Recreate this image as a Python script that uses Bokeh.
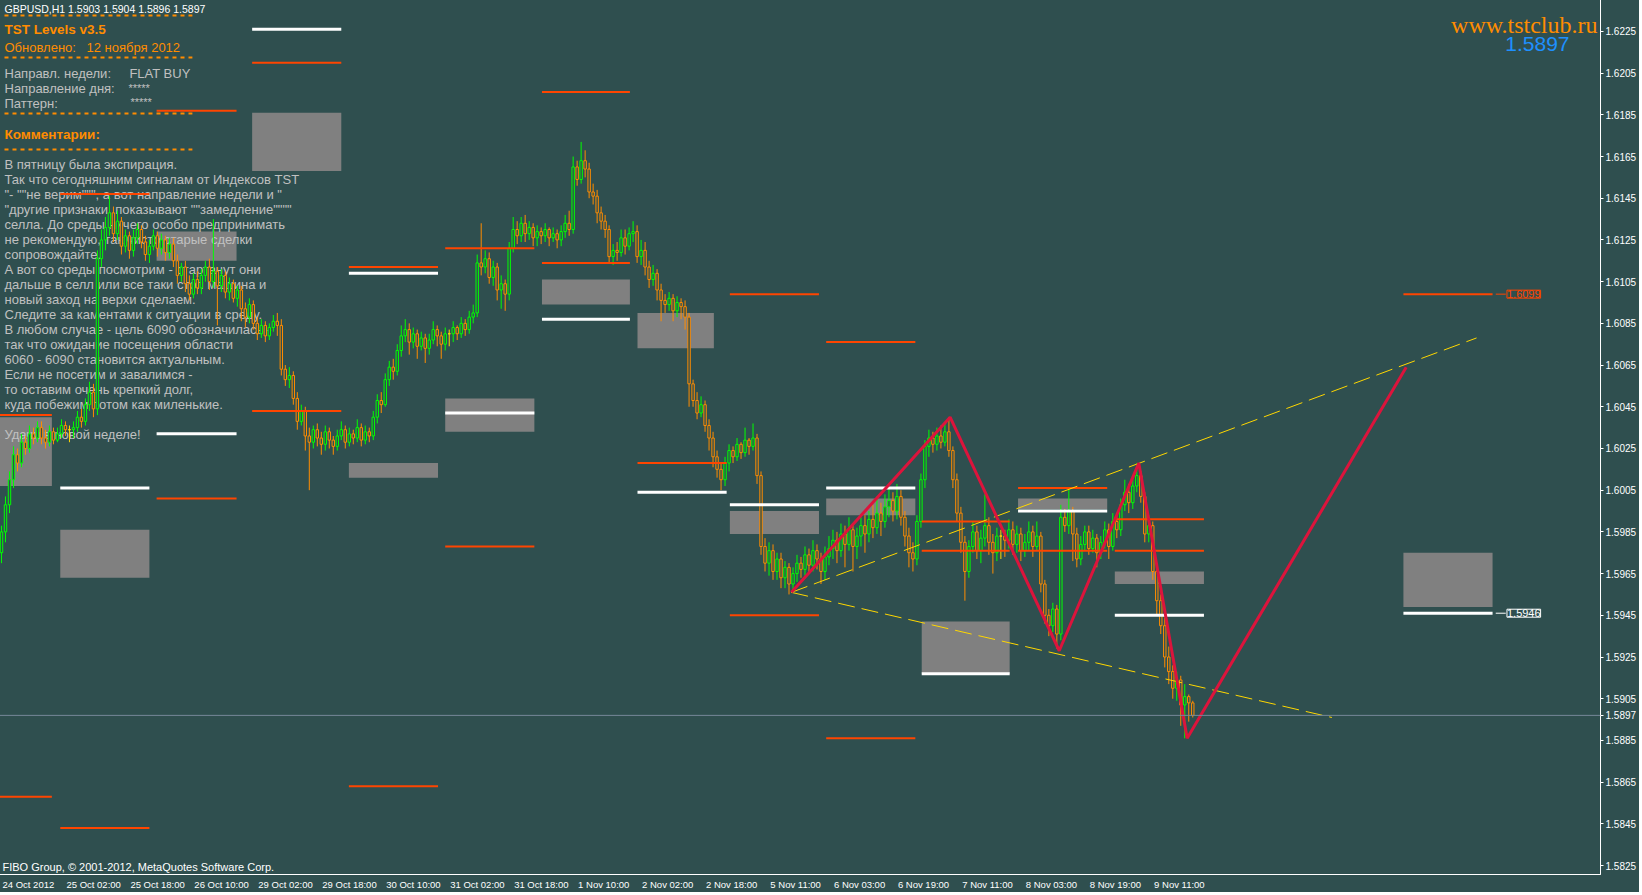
from bokeh.plotting import figure
from bokeh.models import Range1d, LinearAxis, FixedTicker, PrintfTickFormatter, Label, Span
from bokeh.core.properties import value
from bokeh.embed import file_html
from bokeh.resources import INLINE

BG = "#2F4F4F"
BULL = "#00FF00"
BEAR = "#FF8C00"
DOJI = "#FFD700"
ORANGE_RED = "#FF4500"
TXT_ORANGE = "#FF8C00"
SILVER = "#C0C0C0"

# ---------------- data: GBPUSD H1 candles (price = 1 + v/10000) ----------------
bar_open = [5975,5985,5998,6010,6022,6018,6028,6025,6032,6030,
 6035,6030,6028,6033,6029,6032,6036,6034,6034,6035,6040,6038,6046,
 6052,
 6044,
 6116,6125,6131,6138,6128,6134,6122,
 6127,6120,6126,6130,6124,6118,6122,6127,6121,6125,6119,
 6123,6115,6108,6112,6104,6099,6106,
 6102,6108,6112,6105,6110,6103,6108,
 6100,6104,6097,6101,6092,6088,
 6094,6085,6080,6084,6079,6083,6086,
 6084,
 6063,6058,6060,6049,6038,6043,6031,6028,
 6034,6030,6027,6033,6029,6026,6031,6034,6028,6032,6030,6035,6029,6033,
 6031,6040,6048,6046,6058,6064,6062,6072,
 6079,6082,6076,6080,6074,6078,6073,6077,6082,6079,6075,6080,6080,6083,6080,6085,6082,
 6088,6090,6114,
 6112,6116,6107,6112,6101,6104,
 6099,
 6121,6130,6127,6133,6128,6131,6126,6129,6127,6130,6126,6128,6125,6129,
 6133,6130,6160,6154,6163,
 6159,6148,6146,6138,6134,6130,
 6117,6120,6119,6126,6122,6128,
 6129,6117,6120,6112,6106,6109,6101,
 6096,6094,6097,6091,6095,
 6093,6088,
 6056,6048,6042,6046,6036,6030,6021,6015,
 6010,6018,6024,6021,6027,6023,6029,6026,
 6030,6012,
 5978,5970,5976,5966,5972,5963,5968,5960,
 5965,5970,5967,5974,5969,5976,5972,5966,5973,
 5977,5981,5976,5984,5979,5986,5978,
 5983,5988,5984,5991,5987,5994,5990,5997,6000,5995,
 6002,5992,5983,5975,
 5972,5990,6010,6026,6030,6027,
 6031,6028,6033,6024,6010,5994,5980,
 5966,5978,5985,5976,5982,5988,5980,5975,5983,5983,5981,5986,5979,5984,5976,5980,5985,5978,
 5983,5960,5945,5940,5948,
 5936,
 5992,5988,5995,5984,5972,5979,5985,5977,5982,5975,5980,5986,5978,
 5990,5986,5998,6004,5999,6007,6012,
 6002,5984,5988,5966,5952,5940,5925,
 5918,5910,5914,5902,5906,5903]

bar_close = [5985,5998,6010,6022,6018,6028,6025,6032,6030,6035,
 6030,6028,6033,6029,6032,6036,6034,6034,6035,6040,6038,6046,6052,
 6044,
 6116,
 6125,6131,6138,6128,6134,6122,6127,
 6120,6126,6130,6124,6118,6122,6127,6121,6125,6119,6123,
 6115,6108,6112,6104,6099,6106,6102,
 6108,6112,6105,6110,6103,6108,6100,
 6104,6097,6101,6092,6088,6094,
 6085,6080,6084,6079,6083,6086,6084,
 6063,
 6058,6060,6049,6038,6043,6031,6028,6034,
 6030,6027,6033,6029,6026,6031,6034,6028,6032,6030,6035,6029,6033,6031,
 6040,6048,6046,6058,6064,6062,6072,6079,
 6082,6076,6080,6074,6078,6073,6077,6082,6079,6075,6080,6080,6083,6080,6085,6082,6088,
 6090,6114,6112,
 6116,6107,6112,6101,6104,6099,
 6121,
 6130,6127,6133,6128,6131,6126,6129,6127,6130,6126,6128,6125,6129,6133,
 6130,6160,6154,6163,6159,
 6148,6146,6138,6134,6130,6117,
 6120,6119,6126,6122,6128,6129,
 6117,6120,6112,6106,6109,6101,6096,
 6094,6097,6091,6095,6093,
 6088,6056,
 6048,6042,6046,6036,6030,6021,6015,6010,
 6018,6024,6021,6027,6023,6029,6026,6030,
 6012,5978,
 5970,5976,5966,5972,5963,5968,5960,5965,
 5970,5967,5974,5969,5976,5972,5966,5973,5977,
 5981,5976,5984,5979,5986,5978,5983,
 5988,5984,5991,5987,5994,5990,5997,6000,5995,6002,
 5992,5983,5975,5972,
 5990,6010,6026,6030,6027,6031,
 6028,6033,6024,6010,5994,5980,5966,
 5978,5985,5976,5982,5988,5980,5975,5983,5983,5981,5986,5979,5984,5976,5980,5985,5978,5983,
 5960,5945,5940,5948,5936,
 5992,
 5988,5995,5984,5972,5979,5985,5977,5982,5975,5980,5986,5978,5990,
 5986,5998,6004,5999,6007,6012,6002,
 5984,5988,5966,5952,5940,5925,5918,
 5910,5914,5902,5906,5903,5897]

bar_high = [5988,6002,6014,6026,6025,6032,6031,6036,6035,6038,
 6038,6034,6036,6035,6035,6039,6038,6036,6038,6043,6044,6049,6057,
 6056,
 6120,
 6130,6136,6146,6141,6139,6136,6130,
 6129,6130,6133,6132,6127,6125,6130,6129,6128,6127,6126,
 6126,6118,6114,6115,6108,6109,6110,
 6111,6115,6116,6135,6112,6111,6110,
 6107,6106,6103,6103,6095,6097,
 6096,6088,6087,6086,6085,6089,6090,
 6087,
 6065,6064,6062,6052,6046,6045,6035,6036,
 6037,6033,6036,6035,6031,6034,6038,6036,6035,6034,6039,6037,6036,6035,
 6043,6051,6052,6061,6067,6068,6075,6084,
 6087,6085,6083,6082,6081,6080,6080,6086,6084,6081,6083,6082,6086,6084,6088,6087,6091,
 6094,6118,6133,
 6120,6119,6115,6114,6108,6106,
 6124,
 6136,6134,6136,6137,6134,6133,6132,6131,6133,6131,6131,6130,6132,6137,
 6139,6165,6163,6172,6168,
 6162,6152,6149,6141,6137,6132,
 6123,6124,6130,6130,6131,6134,
 6132,6125,6124,6115,6113,6111,6104,
 6099,6100,6099,6098,6097,
 6096,6090,
 6058,6052,6050,6048,6039,6033,6024,6018,
 6021,6027,6026,6030,6028,6035,6030,6037,
 6032,6014,
 5982,5980,5979,5975,5975,5971,5970,5968,
 5974,5973,5978,5977,5981,5979,5975,5978,5983,
 5986,5985,5989,5988,5992,5989,5987,
 5992,5993,5995,5998,6002,5999,6003,6006,6004,6008,
 6005,5995,5987,5980,
 5993,6013,6029,6034,6033,6035,
 6036,6037,6040,6026,6013,5997,5983,
 5981,5990,5988,5986,6003,5992,5984,5987,5986,5986,5991,5990,5988,5987,5984,5990,5988,5990,
 5985,5962,5948,5951,5950,
 5998,
 5996,6006,5997,5987,5983,5988,5988,5986,5984,5983,5990,5989,5994,
 5993,6001,6010,6008,6012,6018,6014,
 6004,5993,5990,5970,5955,5944,5930,
 5921,5918,5916,5912,5907,5904]

bar_low = [5970,5980,5994,6006,6014,6016,6022,6023,6027,6028,
 6027,6025,6026,6027,6028,6030,6031,6028,6030,6033,6035,6036,6043,
 6040,
 6041,
 6112,6120,6127,6124,6125,6118,6119,
 6116,6117,6123,6121,6115,6114,6120,6117,6118,6115,6116,
 6112,6104,6105,6100,6096,6097,6099,
 6099,6105,6101,6102,6084,6100,6097,
 6096,6095,6093,6086,6083,6085,
 6082,6077,6078,6076,6077,6081,6079,
 6060,
 6055,6054,6046,6034,6036,6024,6005,6025,
 6026,6022,6024,6025,6022,6024,6029,6025,6026,6027,6028,6026,6027,6028,
 6029,6037,6042,6045,6055,6058,6060,6069,
 6076,6070,6073,6068,6072,6066,6070,6075,6074,6068,6072,6074,6076,6077,6078,6079,6080,
 6085,6088,6108,
 6109,6104,6103,6096,6092,6091,
 6096,
 6119,6123,6124,6124,6125,6122,6122,6123,6124,6122,6124,6121,6122,6126,
 6127,6128,6151,6152,6155,
 6145,6142,6133,6130,6126,6114,
 6113,6115,6117,6118,6120,6124,
 6114,6113,6108,6102,6103,6096,6086,
 6090,6091,6086,6088,6087,
 6082,6045,
 6045,6039,6040,6033,6024,6016,6011,6005,
 6007,6014,6018,6019,6020,6021,6022,6024,
 6008,5974,
 5966,5964,5962,5962,5958,5958,5955,5957,
 5961,5963,5964,5965,5966,5967,5960,5962,5969,
 5972,5970,5973,5968,5976,5966,5972,
 5978,5975,5980,5982,5984,5983,5987,5992,5990,5991,
 5988,5978,5968,5966,
 5969,5987,6006,6021,6023,6024,
 6025,6026,6021,6006,5990,5975,5952,
 5963,5975,5972,5970,5978,5974,5965,5971,5972,5973,5977,5974,5975,5971,5973,5976,5973,5976,
 5956,5941,5935,5937,5929,
 5933,
 5985,5984,5971,5968,5969,5976,5974,5975,5968,5972,5977,5972,5976,
 5982,5983,5995,5994,5996,6004,5999,
 5980,5980,5962,5945,5936,5920,5912,
 5905,5904,5892,5886,5894,5896]

# time axis (bar index -> label), 16 bars apart
date_tick_bars = [0, 16, 32, 48, 64, 80, 96, 112, 128, 144, 160, 176, 192, 208, 224, 240, 256, 272, 288]
date_tick_labels = ["24 Oct 2012", "25 Oct 02:00", "25 Oct 18:00", "26 Oct 10:00", "29 Oct 02:00",
                    "29 Oct 18:00", "30 Oct 10:00", "31 Oct 02:00", "31 Oct 18:00", "1 Nov 10:00",
                    "2 Nov 02:00", "2 Nov 18:00", "5 Nov 11:00", "6 Nov 03:00", "6 Nov 19:00",
                    "7 Nov 11:00", "8 Nov 03:00", "8 Nov 19:00", "9 Nov 11:00"]
price_ticks = [1.5825, 1.5845, 1.5865, 1.5885, 1.5905, 1.5925, 1.5945, 1.5965, 1.5985, 1.6005,
               1.6025, 1.6045, 1.6065, 1.6085, 1.6105, 1.6125, 1.6145, 1.6165, 1.6185, 1.6205, 1.6225]
last_price = 1.5897

# TST levels (per-day segments)
orange_x0 = [-0.5, -0.5, 14.7, 14.7, 38.8, 38.8, 62.7, 62.7, 86.9, 86.9, 111.0, 111.0, 135.2, 135.2,
             159.1, 182.2, 182.2, 206.3, 206.3, 230.2, 230.2, 254.3, 254.3, 278.5, 278.5, 350.7]
orange_x1 = [12.6, 12.6, 37.0, 37.0, 58.8, 58.8, 85.0, 85.0, 109.2, 109.2, 133.3, 133.3, 157.2, 157.2,
             181.4, 204.5, 204.5, 228.6, 228.6, 252.2, 252.2, 276.6, 276.6, 300.8, 300.8, 373.0]
orange_y = [1.6041, 1.5858, 1.6147, 1.5843, 1.6187, 1.6001, 1.6210, 1.6043, 1.6112, 1.5863, 1.6121, 1.5978,
            1.6196, 1.6114, 1.6018, 1.6099, 1.5945, 1.6076, 1.5886, 1.5990, 1.5976, 1.6006, 1.5976,
            1.5991, 1.5976, 1.6099]
white_x0 = [14.7, 38.8, 62.7, 86.9, 111.0, 135.2, 159.1, 182.2, 206.3, 230.2, 254.3, 278.5, 350.7]
white_x1 = [37.0, 58.8, 85.0, 109.2, 133.3, 157.2, 181.4, 204.5, 228.6, 252.2, 276.6, 300.8, 373.0]
white_y = [1.6006, 1.6032, 1.6226, 1.6109, 1.6042, 1.6087, 1.6004, 1.5998, 1.6006, 1.5917, 1.5995, 1.5945, 1.5946]
box_x0 = [-0.5, 14.7, 38.8, 62.7, 86.9, 111.0, 135.2, 159.1, 182.2, 206.3, 230.2, 254.3, 278.5, 350.7]
box_x1 = [12.6, 37.0, 58.8, 85.0, 109.2, 133.3, 157.2, 178.2, 204.5, 228.6, 252.2, 276.6, 300.8, 373.0]
box_lo = [1.6007, 1.5963, 1.6115, 1.6158, 1.6011, 1.6033, 1.6094, 1.6073, 1.5984, 1.5993, 1.5917, 1.5996, 1.5960, 1.5949]
box_hi = [1.6040, 1.5986, 1.6129, 1.6186, 1.6018, 1.6049, 1.6106, 1.6090, 1.5995, 1.6001, 1.5942, 1.6001, 1.5966, 1.5975]

zigzag_x = [197.6, 237.3, 264.6, 284.5, 296.6, 351.4]
zigzag_y = [1.5956, 1.6040, 1.5928, 1.6018, 1.5886, 1.6064]
trend_x0 = [197.6, 197.6]
trend_x1 = [369.0, 332.8]
trend_y0 = [1.5956, 1.5956]
trend_y1 = [1.6078, 1.5896]

header_text = "GBPUSD,H1  1.5903 1.5904 1.5896 1.5897"
comment_lines = [
    "В пятницу была экспирация.",
    "Так что сегодняшним сигналам от Индексов TST",
    "\"- \"\"не верим\"\"\", а вот направление недели и \"",
    "\"другие признаки, показывают \"\"замедление\"\"\"\"",
    "селла. До среды ничего особо предпринимать",
    "не рекомендую, так чисто старые сделки",
    "сопровождайте.",
    "А вот со среды посмотрим - стартанут они",
    "дальше в селл или все таки стоп машина и",
    "новый заход на верхи сделаем.",
    "Следите за каментами к ситуации в среду.",
    "В любом случае - цель 6090 обозначилась -",
    "так что ожидание посещения области",
    "6060 - 6090 становится актуальным.",
    "Если не посетим и завалимся -",
    "то оставим очень крепкий долг,",
    "куда побежим потом как миленькие.",
]

# ---------------- build ----------------
n = min(len(bar_open), len(bar_close), len(bar_high), len(bar_low))
xs = list(range(n))
O = [1 + v / 10000.0 for v in bar_open[:n]]
C = [1 + v / 10000.0 for v in bar_close[:n]]
H = [1 + v / 10000.0 for v in bar_high[:n]]
L = [1 + v / 10000.0 for v in bar_low[:n]]
cols = [BULL if c > o else (BEAR if c < o else DOJI) for o, c in zip(O, C)]
tops = [max(o, c) for o, c in zip(O, C)]
bots = [min(o, c) for o, c in zip(O, C)]

# 1642x895 canvas; a negative margin cancels the page's 8px body margin so the chart
# sits at the window origin and fills the window.
p = figure(width=1642, height=895, output_backend="svg", toolbar_location=None,
           margin=(-3, -3, -3, -3),
           x_range=Range1d(-0.5, 400.0), y_range=Range1d(1.58207, 1.62403),
           x_axis_location=None, y_axis_location=None,
           background_fill_color=BG, border_fill_color=BG,
           outline_line_color="white", outline_line_width=1,
           min_border_left=2, min_border_top=2, min_border_right=38, min_border_bottom=18)
p.grid.visible = False
p.extra_x_ranges = {"px": Range1d(2, 1604)}
p.extra_y_ranges = {"px": Range1d(877, 2)}

yaxis = LinearAxis(ticker=FixedTicker(ticks=sorted(price_ticks + [last_price])),
                   formatter=PrintfTickFormatter(format="%.4f"),
                   axis_line_color="white", major_tick_line_color="white", major_tick_in=0, major_tick_out=3,
                   minor_tick_line_color=None, minor_tick_in=0, minor_tick_out=0,
                   major_label_text_color="white",
                   major_label_text_font="Liberation Sans", major_label_text_font_size="10px",
                   major_label_standoff=2)
p.add_layout(yaxis, "right")

PX_PER_BAR = 4.0
CW = {"0": .556, "1": .556, "2": .556, "3": .556, "4": .556, "5": .556, "6": .556, "7": .556,
      "8": .556, "9": .556, " ": .278, ":": .278, "O": .778, "N": .722, "c": .5, "t": .278,
      "o": .556, "v": .5}
centers = []
overrides = {}
for b, t in zip(date_tick_bars, date_tick_labels):
    wpx = sum(CW.get(ch, .55) for ch in t) * 9.5
    cx = round(b + (wpx / 2 + 1) / PX_PER_BAR, 3)
    centers.append(cx)
    overrides[cx] = t
xaxis = LinearAxis(ticker=FixedTicker(ticks=centers), major_label_overrides=overrides,
                   axis_line_color=None, major_tick_line_color=None, minor_tick_line_color=None,
                   major_tick_in=0, major_tick_out=0, minor_tick_in=0, minor_tick_out=0,
                   major_label_text_color="white", major_label_text_font="Liberation Sans",
                   major_label_text_font_size="9.5px", major_label_standoff=4)
p.add_layout(xaxis, "below")

# gray zones
p.quad(left=box_x0, right=box_x1, bottom=box_lo, top=box_hi, fill_color="#808080", line_color=None)

# texts (reference pixel coordinates)
def txt(x, y, s, color, size, style="normal", font="Liberation Sans", align="left"):
    p.text(x=[x], y=[y], text=[s], text_color=color, text_font=value(font), text_font_size=size,
           text_font_style=style, text_align=align, text_baseline="middle",
           x_range_name="px", y_range_name="px")

txt(7, 11, header_text, "white", "10.5px")
for yy in [18, 60, 116, 152]:
    p.segment(x0=[7], x1=[195], y0=[yy], y1=[yy], line_color=TXT_ORANGE, line_width=2,
              line_dash="4 4", x_range_name="px", y_range_name="px")
txt(7, 32, "TST Levels v3.5", TXT_ORANGE, "13.5px", "bold")
txt(7, 50, "Обновлено:", TXT_ORANGE, "13px")
txt(89, 50, "12 ноября 2012", TXT_ORANGE, "13px")
txt(7, 76, "Направл. недели:", SILVER, "13px")
txt(132, 76, "FLAT BUY", SILVER, "13px")
txt(7, 91, "Направление дня:", SILVER, "13px")
txt(131, 90, "*****", SILVER, "11px")
txt(7, 106, "Паттерн:", SILVER, "13px")
txt(133, 104, "*****", SILVER, "11px")
txt(7, 137, "Комментарии:", TXT_ORANGE, "13.5px", "bold")
for k, line in enumerate(comment_lines):
    txt(7, 167 + 15 * k, line, SILVER, "13px")
txt(7, 437, "Удачи в новой неделе!", SILVER, "13px")
txt(5, 869, "FIBO Group, © 2001-2012, MetaQuotes Software Corp.", "white", "11px")
txt(1601, 27, "www.tstclub.ru", TXT_ORANGE, "24px", font="Liberation Serif", align="right")
txt(1573, 46, "1.5897", "#1E90FF", "21px", align="right")

# candles
p.segment(x0=xs, x1=xs, y0=L, y1=H, line_color=cols, line_width=1)
p.vbar(x=xs, width=0.6, top=tops, bottom=bots, fill_color=BG, line_color=cols, line_width=1)

# level lines
p.segment(x0=orange_x0, x1=orange_x1, y0=orange_y, y1=orange_y, line_color=ORANGE_RED, line_width=2)
p.segment(x0=white_x0, x1=white_x1, y0=white_y, y1=white_y, line_color="white", line_width=3)

# channel + zigzag
p.segment(x0=trend_x0, x1=trend_x1, y0=trend_y0, y1=trend_y1, line_color="#FFD700", line_width=1,
          line_dash="17 7")
p.line(x=zigzag_x, y=zigzag_y, line_color="#DC143C", line_width=3)

# price labels for the forecast levels
p.segment(x0=[373.8, 373.8], x1=[376.3, 376.3], y0=[1.6099, 1.5946], y1=[1.6099, 1.5946],
          line_color=[ORANGE_RED, "white"], line_width=1)
p.add_layout(Label(x=376.6, y=1.6099, text="1.6099", text_color=ORANGE_RED, text_font="Liberation Sans",
                   text_font_size="11px", text_baseline="middle", border_line_color=ORANGE_RED,
                   background_fill_color=BG))
p.add_layout(Label(x=376.6, y=1.5946, text="1.5946", text_color="white", text_font="Liberation Sans",
                   text_font_size="11px", text_baseline="middle", border_line_color="white",
                   background_fill_color=BG))

# last price line
p.add_layout(Span(location=last_price, dimension="width", line_color="#778899", line_width=1))

open("out.html", "w").write(file_html(p, INLINE))
